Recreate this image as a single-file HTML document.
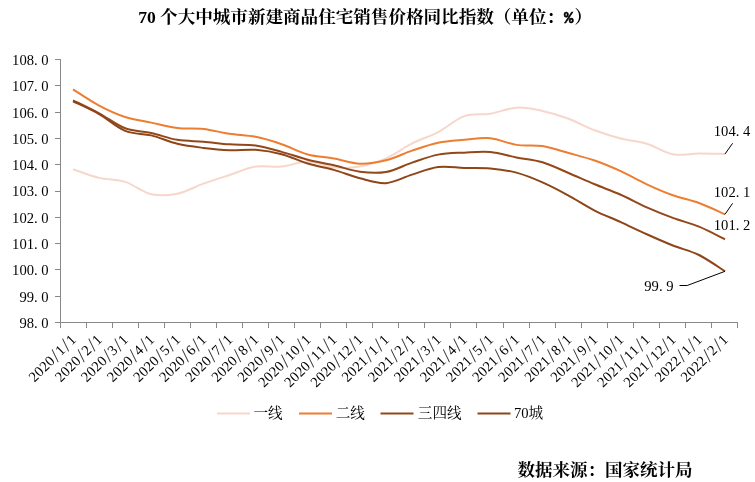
<!DOCTYPE html>
<html lang="zh-CN"><head><meta charset="utf-8"><title>70个大中城市新建商品住宅销售价格同比指数</title>
<style>
html,body{margin:0;padding:0;background:#fff;}
body{width:755px;height:482px;overflow:hidden;}
svg{display:block;}
.lab{font-family:"Liberation Serif","Noto Serif CJK SC",serif;font-size:14.6px;fill:#000;}
.cj{font-family:"Liberation Serif","Noto Serif CJK SC",serif;fill:#000;}
.ttl{font-family:"Liberation Serif","Noto Serif CJK SC",serif;font-weight:bold;fill:#000;}
</style></head><body>
<svg width="755" height="482" viewBox="0 0 755 482">
<rect width="755" height="482" fill="#fff"/>
<text class="ttl" x="138.3" y="23.3" font-size="17.6" xml:space="preserve">70 <tspan x="160.1" letter-spacing="-0.03">个大中城市新建商品住宅销售价格同比指数（单位：</tspan><tspan x="563.9" font-family="Liberation Mono,monospace" font-size="17" stroke="#000" stroke-width="0.6" textLength="9.4" lengthAdjust="spacingAndGlyphs">%</tspan><tspan x="574.5">）</tspan></text>
<g stroke="#888888" stroke-width="1" fill="none" shape-rendering="crispEdges">
<line x1="60.5" y1="59" x2="60.5" y2="323"/>
<line x1="60" y1="322.5" x2="738" y2="322.5"/>
<line x1="55" y1="59.5" x2="60" y2="59.5"/>
<line x1="55" y1="85.5" x2="60" y2="85.5"/>
<line x1="55" y1="112.5" x2="60" y2="112.5"/>
<line x1="55" y1="138.5" x2="60" y2="138.5"/>
<line x1="55" y1="164.5" x2="60" y2="164.5"/>
<line x1="55" y1="191.5" x2="60" y2="191.5"/>
<line x1="55" y1="217.5" x2="60" y2="217.5"/>
<line x1="55" y1="243.5" x2="60" y2="243.5"/>
<line x1="55" y1="269.5" x2="60" y2="269.5"/>
<line x1="55" y1="296.5" x2="60" y2="296.5"/>
<line x1="55" y1="322.5" x2="60" y2="322.5"/>
<line x1="60.5" y1="323" x2="60.5" y2="328"/>
<line x1="86.5" y1="323" x2="86.5" y2="328"/>
<line x1="112.5" y1="323" x2="112.5" y2="328"/>
<line x1="138.5" y1="323" x2="138.5" y2="328"/>
<line x1="164.5" y1="323" x2="164.5" y2="328"/>
<line x1="190.5" y1="323" x2="190.5" y2="328"/>
<line x1="216.5" y1="323" x2="216.5" y2="328"/>
<line x1="242.5" y1="323" x2="242.5" y2="328"/>
<line x1="268.5" y1="323" x2="268.5" y2="328"/>
<line x1="294.5" y1="323" x2="294.5" y2="328"/>
<line x1="320.5" y1="323" x2="320.5" y2="328"/>
<line x1="346.5" y1="323" x2="346.5" y2="328"/>
<line x1="372.5" y1="323" x2="372.5" y2="328"/>
<line x1="398.5" y1="323" x2="398.5" y2="328"/>
<line x1="424.5" y1="323" x2="424.5" y2="328"/>
<line x1="450.5" y1="323" x2="450.5" y2="328"/>
<line x1="476.5" y1="323" x2="476.5" y2="328"/>
<line x1="503.5" y1="323" x2="503.5" y2="328"/>
<line x1="529.5" y1="323" x2="529.5" y2="328"/>
<line x1="555.5" y1="323" x2="555.5" y2="328"/>
<line x1="581.5" y1="323" x2="581.5" y2="328"/>
<line x1="607.5" y1="323" x2="607.5" y2="328"/>
<line x1="633.5" y1="323" x2="633.5" y2="328"/>
<line x1="659.5" y1="323" x2="659.5" y2="328"/>
<line x1="685.5" y1="323" x2="685.5" y2="328"/>
<line x1="711.5" y1="323" x2="711.5" y2="328"/>
<line x1="737.5" y1="323" x2="737.5" y2="328"/>
</g>
<text class="lab" y="64.9" x="12.1 19.4 26.7 34.0 41.3">108.0</text>
<text class="lab" y="91.2" x="12.1 19.4 26.7 34.0 41.3">107.0</text>
<text class="lab" y="117.5" x="12.1 19.4 26.7 34.0 41.3">106.0</text>
<text class="lab" y="143.8" x="12.1 19.4 26.7 34.0 41.3">105.0</text>
<text class="lab" y="170.1" x="12.1 19.4 26.7 34.0 41.3">104.0</text>
<text class="lab" y="196.4" x="12.1 19.4 26.7 34.0 41.3">103.0</text>
<text class="lab" y="222.8" x="12.1 19.4 26.7 34.0 41.3">102.0</text>
<text class="lab" y="249.1" x="12.1 19.4 26.7 34.0 41.3">101.0</text>
<text class="lab" y="275.4" x="12.1 19.4 26.7 34.0 41.3">100.0</text>
<text class="lab" y="301.7" x="19.4 26.7 34.0 41.3">99.0</text>
<text class="lab" y="328.0" x="19.4 26.7 34.0 41.3">98.0</text>
<text class="lab" font-size="15" transform="translate(73.7 337.1) rotate(-45)"><tspan x="-60.0 -52.5 -45.0 -37.5" y="4.6">2020</tspan><tspan font-size="20" fill="#383838" x="-29.0" y="6.4">/</tspan><tspan x="-22.5" y="4.6">1</tspan><tspan font-size="20" fill="#383838" x="-14.0" y="6.4">/</tspan><tspan x="-7.5" y="4.6">1</tspan></text>
<text class="lab" font-size="15" transform="translate(99.8 337.1) rotate(-45)"><tspan x="-60.0 -52.5 -45.0 -37.5" y="4.6">2020</tspan><tspan font-size="20" fill="#383838" x="-29.0" y="6.4">/</tspan><tspan x="-22.5" y="4.6">2</tspan><tspan font-size="20" fill="#383838" x="-14.0" y="6.4">/</tspan><tspan x="-7.5" y="4.6">1</tspan></text>
<text class="lab" font-size="15" transform="translate(125.9 337.1) rotate(-45)"><tspan x="-60.0 -52.5 -45.0 -37.5" y="4.6">2020</tspan><tspan font-size="20" fill="#383838" x="-29.0" y="6.4">/</tspan><tspan x="-22.5" y="4.6">3</tspan><tspan font-size="20" fill="#383838" x="-14.0" y="6.4">/</tspan><tspan x="-7.5" y="4.6">1</tspan></text>
<text class="lab" font-size="15" transform="translate(152.0 337.1) rotate(-45)"><tspan x="-60.0 -52.5 -45.0 -37.5" y="4.6">2020</tspan><tspan font-size="20" fill="#383838" x="-29.0" y="6.4">/</tspan><tspan x="-22.5" y="4.6">4</tspan><tspan font-size="20" fill="#383838" x="-14.0" y="6.4">/</tspan><tspan x="-7.5" y="4.6">1</tspan></text>
<text class="lab" font-size="15" transform="translate(178.1 337.1) rotate(-45)"><tspan x="-60.0 -52.5 -45.0 -37.5" y="4.6">2020</tspan><tspan font-size="20" fill="#383838" x="-29.0" y="6.4">/</tspan><tspan x="-22.5" y="4.6">5</tspan><tspan font-size="20" fill="#383838" x="-14.0" y="6.4">/</tspan><tspan x="-7.5" y="4.6">1</tspan></text>
<text class="lab" font-size="15" transform="translate(204.1 337.1) rotate(-45)"><tspan x="-60.0 -52.5 -45.0 -37.5" y="4.6">2020</tspan><tspan font-size="20" fill="#383838" x="-29.0" y="6.4">/</tspan><tspan x="-22.5" y="4.6">6</tspan><tspan font-size="20" fill="#383838" x="-14.0" y="6.4">/</tspan><tspan x="-7.5" y="4.6">1</tspan></text>
<text class="lab" font-size="15" transform="translate(230.2 337.1) rotate(-45)"><tspan x="-60.0 -52.5 -45.0 -37.5" y="4.6">2020</tspan><tspan font-size="20" fill="#383838" x="-29.0" y="6.4">/</tspan><tspan x="-22.5" y="4.6">7</tspan><tspan font-size="20" fill="#383838" x="-14.0" y="6.4">/</tspan><tspan x="-7.5" y="4.6">1</tspan></text>
<text class="lab" font-size="15" transform="translate(256.3 337.1) rotate(-45)"><tspan x="-60.0 -52.5 -45.0 -37.5" y="4.6">2020</tspan><tspan font-size="20" fill="#383838" x="-29.0" y="6.4">/</tspan><tspan x="-22.5" y="4.6">8</tspan><tspan font-size="20" fill="#383838" x="-14.0" y="6.4">/</tspan><tspan x="-7.5" y="4.6">1</tspan></text>
<text class="lab" font-size="15" transform="translate(282.4 337.1) rotate(-45)"><tspan x="-60.0 -52.5 -45.0 -37.5" y="4.6">2020</tspan><tspan font-size="20" fill="#383838" x="-29.0" y="6.4">/</tspan><tspan x="-22.5" y="4.6">9</tspan><tspan font-size="20" fill="#383838" x="-14.0" y="6.4">/</tspan><tspan x="-7.5" y="4.6">1</tspan></text>
<text class="lab" font-size="15" transform="translate(308.5 337.1) rotate(-45)"><tspan x="-67.5 -60.0 -52.5 -45.0" y="4.6">2020</tspan><tspan font-size="20" fill="#383838" x="-36.5" y="6.4">/</tspan><tspan x="-30.0 -22.5" y="4.6">10</tspan><tspan font-size="20" fill="#383838" x="-14.0" y="6.4">/</tspan><tspan x="-7.5" y="4.6">1</tspan></text>
<text class="lab" font-size="15" transform="translate(334.5 337.1) rotate(-45)"><tspan x="-67.5 -60.0 -52.5 -45.0" y="4.6">2020</tspan><tspan font-size="20" fill="#383838" x="-36.5" y="6.4">/</tspan><tspan x="-30.0 -22.5" y="4.6">11</tspan><tspan font-size="20" fill="#383838" x="-14.0" y="6.4">/</tspan><tspan x="-7.5" y="4.6">1</tspan></text>
<text class="lab" font-size="15" transform="translate(360.6 337.1) rotate(-45)"><tspan x="-67.5 -60.0 -52.5 -45.0" y="4.6">2020</tspan><tspan font-size="20" fill="#383838" x="-36.5" y="6.4">/</tspan><tspan x="-30.0 -22.5" y="4.6">12</tspan><tspan font-size="20" fill="#383838" x="-14.0" y="6.4">/</tspan><tspan x="-7.5" y="4.6">1</tspan></text>
<text class="lab" font-size="15" transform="translate(386.7 337.1) rotate(-45)"><tspan x="-60.0 -52.5 -45.0 -37.5" y="4.6">2021</tspan><tspan font-size="20" fill="#383838" x="-29.0" y="6.4">/</tspan><tspan x="-22.5" y="4.6">1</tspan><tspan font-size="20" fill="#383838" x="-14.0" y="6.4">/</tspan><tspan x="-7.5" y="4.6">1</tspan></text>
<text class="lab" font-size="15" transform="translate(412.8 337.1) rotate(-45)"><tspan x="-60.0 -52.5 -45.0 -37.5" y="4.6">2021</tspan><tspan font-size="20" fill="#383838" x="-29.0" y="6.4">/</tspan><tspan x="-22.5" y="4.6">2</tspan><tspan font-size="20" fill="#383838" x="-14.0" y="6.4">/</tspan><tspan x="-7.5" y="4.6">1</tspan></text>
<text class="lab" font-size="15" transform="translate(438.9 337.1) rotate(-45)"><tspan x="-60.0 -52.5 -45.0 -37.5" y="4.6">2021</tspan><tspan font-size="20" fill="#383838" x="-29.0" y="6.4">/</tspan><tspan x="-22.5" y="4.6">3</tspan><tspan font-size="20" fill="#383838" x="-14.0" y="6.4">/</tspan><tspan x="-7.5" y="4.6">1</tspan></text>
<text class="lab" font-size="15" transform="translate(464.9 337.1) rotate(-45)"><tspan x="-60.0 -52.5 -45.0 -37.5" y="4.6">2021</tspan><tspan font-size="20" fill="#383838" x="-29.0" y="6.4">/</tspan><tspan x="-22.5" y="4.6">4</tspan><tspan font-size="20" fill="#383838" x="-14.0" y="6.4">/</tspan><tspan x="-7.5" y="4.6">1</tspan></text>
<text class="lab" font-size="15" transform="translate(491.0 337.1) rotate(-45)"><tspan x="-60.0 -52.5 -45.0 -37.5" y="4.6">2021</tspan><tspan font-size="20" fill="#383838" x="-29.0" y="6.4">/</tspan><tspan x="-22.5" y="4.6">5</tspan><tspan font-size="20" fill="#383838" x="-14.0" y="6.4">/</tspan><tspan x="-7.5" y="4.6">1</tspan></text>
<text class="lab" font-size="15" transform="translate(517.1 337.1) rotate(-45)"><tspan x="-60.0 -52.5 -45.0 -37.5" y="4.6">2021</tspan><tspan font-size="20" fill="#383838" x="-29.0" y="6.4">/</tspan><tspan x="-22.5" y="4.6">6</tspan><tspan font-size="20" fill="#383838" x="-14.0" y="6.4">/</tspan><tspan x="-7.5" y="4.6">1</tspan></text>
<text class="lab" font-size="15" transform="translate(543.2 337.1) rotate(-45)"><tspan x="-60.0 -52.5 -45.0 -37.5" y="4.6">2021</tspan><tspan font-size="20" fill="#383838" x="-29.0" y="6.4">/</tspan><tspan x="-22.5" y="4.6">7</tspan><tspan font-size="20" fill="#383838" x="-14.0" y="6.4">/</tspan><tspan x="-7.5" y="4.6">1</tspan></text>
<text class="lab" font-size="15" transform="translate(569.3 337.1) rotate(-45)"><tspan x="-60.0 -52.5 -45.0 -37.5" y="4.6">2021</tspan><tspan font-size="20" fill="#383838" x="-29.0" y="6.4">/</tspan><tspan x="-22.5" y="4.6">8</tspan><tspan font-size="20" fill="#383838" x="-14.0" y="6.4">/</tspan><tspan x="-7.5" y="4.6">1</tspan></text>
<text class="lab" font-size="15" transform="translate(595.3 337.1) rotate(-45)"><tspan x="-60.0 -52.5 -45.0 -37.5" y="4.6">2021</tspan><tspan font-size="20" fill="#383838" x="-29.0" y="6.4">/</tspan><tspan x="-22.5" y="4.6">9</tspan><tspan font-size="20" fill="#383838" x="-14.0" y="6.4">/</tspan><tspan x="-7.5" y="4.6">1</tspan></text>
<text class="lab" font-size="15" transform="translate(621.4 337.1) rotate(-45)"><tspan x="-67.5 -60.0 -52.5 -45.0" y="4.6">2021</tspan><tspan font-size="20" fill="#383838" x="-36.5" y="6.4">/</tspan><tspan x="-30.0 -22.5" y="4.6">10</tspan><tspan font-size="20" fill="#383838" x="-14.0" y="6.4">/</tspan><tspan x="-7.5" y="4.6">1</tspan></text>
<text class="lab" font-size="15" transform="translate(647.5 337.1) rotate(-45)"><tspan x="-67.5 -60.0 -52.5 -45.0" y="4.6">2021</tspan><tspan font-size="20" fill="#383838" x="-36.5" y="6.4">/</tspan><tspan x="-30.0 -22.5" y="4.6">11</tspan><tspan font-size="20" fill="#383838" x="-14.0" y="6.4">/</tspan><tspan x="-7.5" y="4.6">1</tspan></text>
<text class="lab" font-size="15" transform="translate(673.6 337.1) rotate(-45)"><tspan x="-67.5 -60.0 -52.5 -45.0" y="4.6">2021</tspan><tspan font-size="20" fill="#383838" x="-36.5" y="6.4">/</tspan><tspan x="-30.0 -22.5" y="4.6">12</tspan><tspan font-size="20" fill="#383838" x="-14.0" y="6.4">/</tspan><tspan x="-7.5" y="4.6">1</tspan></text>
<text class="lab" font-size="15" transform="translate(699.7 337.1) rotate(-45)"><tspan x="-60.0 -52.5 -45.0 -37.5" y="4.6">2022</tspan><tspan font-size="20" fill="#383838" x="-29.0" y="6.4">/</tspan><tspan x="-22.5" y="4.6">1</tspan><tspan font-size="20" fill="#383838" x="-14.0" y="6.4">/</tspan><tspan x="-7.5" y="4.6">1</tspan></text>
<text class="lab" font-size="15" transform="translate(725.7 337.1) rotate(-45)"><tspan x="-60.0 -52.5 -45.0 -37.5" y="4.6">2022</tspan><tspan font-size="20" fill="#383838" x="-29.0" y="6.4">/</tspan><tspan x="-22.5" y="4.6">2</tspan><tspan font-size="20" fill="#383838" x="-14.0" y="6.4">/</tspan><tspan x="-7.5" y="4.6">1</tspan></text>
<path d="M73.04 169.21 C77.39 170.66 90.43 175.79 99.12 177.89 C107.81 180.00 116.51 179.12 125.20 181.84 C133.89 184.56 142.59 192.23 151.28 194.21 C159.97 196.18 168.67 195.43 177.36 193.68 C186.05 191.93 194.75 186.80 203.44 183.68 C212.13 180.57 220.83 177.85 229.52 175.00 C238.21 172.15 246.91 167.98 255.60 166.58 C264.29 165.18 272.99 167.41 281.68 166.58 C290.37 165.75 299.07 161.45 307.76 161.58 C316.45 161.71 325.15 166.54 333.84 167.37 C342.53 168.20 351.23 168.07 359.92 166.58 C368.61 165.09 377.31 162.28 386.00 158.43 C394.69 154.57 403.39 147.81 412.08 143.43 C420.77 139.04 429.47 136.68 438.16 132.12 C446.85 127.56 455.55 119.14 464.24 116.07 C472.93 113.00 481.63 115.10 490.32 113.70 C499.01 112.30 507.71 108.11 516.40 107.65 C525.09 107.19 533.79 109.09 542.48 110.94 C551.17 112.78 559.87 115.47 568.56 118.70 C577.25 121.92 585.95 126.99 594.64 130.27 C603.33 133.56 612.03 136.19 620.72 138.43 C629.41 140.67 638.11 141.06 646.80 143.69 C655.49 146.32 664.19 152.57 672.88 154.22 C681.57 155.86 690.27 153.60 698.96 153.56 C707.65 153.51 720.69 153.89 725.04 153.95" fill="none" stroke="#F7D6CB" stroke-width="2" stroke-linejoin="round"/>
<path d="M73.04 89.34 C77.39 92.04 90.43 100.93 99.12 105.54 C107.81 110.15 116.51 114.14 125.20 116.99 C133.89 119.84 142.59 120.81 151.28 122.64 C159.97 124.48 168.67 126.96 177.36 128.01 C186.05 129.06 194.75 127.99 203.44 128.96 C212.13 129.93 220.83 132.51 229.52 133.83 C238.21 135.14 246.91 135.12 255.60 136.85 C264.29 138.58 272.99 141.28 281.68 144.22 C290.37 147.16 299.07 152.11 307.76 154.48 C316.45 156.85 325.15 156.89 333.84 158.43 C342.53 159.96 351.23 163.38 359.92 163.69 C368.61 163.99 377.31 162.44 386.00 160.27 C394.69 158.10 403.39 153.58 412.08 150.66 C420.77 147.75 429.47 144.58 438.16 142.77 C446.85 140.96 455.55 140.59 464.24 139.82 C472.93 139.06 481.63 137.32 490.32 138.17 C499.01 139.01 507.71 143.56 516.40 144.88 C525.09 146.19 533.79 144.70 542.48 146.06 C551.17 147.42 559.87 150.62 568.56 153.03 C577.25 155.44 585.95 157.51 594.64 160.53 C603.33 163.55 612.03 167.20 620.72 171.16 C629.41 175.12 638.11 180.30 646.80 184.31 C655.49 188.33 664.19 192.14 672.88 195.26 C681.57 198.38 690.27 199.86 698.96 203.02 C707.65 206.19 720.69 212.38 725.04 214.26" fill="none" stroke="#ED7D31" stroke-width="2" stroke-linejoin="round"/>
<path d="M73.04 100.28 C77.39 102.45 90.43 108.63 99.12 113.30 C107.81 117.97 116.51 125.01 125.20 128.30 C133.89 131.59 142.59 131.11 151.28 133.04 C159.97 134.96 168.67 138.40 177.36 139.85 C186.05 141.30 194.75 140.97 203.44 141.72 C212.13 142.47 220.83 143.71 229.52 144.35 C238.21 144.99 246.91 144.28 255.60 145.53 C264.29 146.78 272.99 149.48 281.68 151.85 C290.37 154.22 299.07 157.50 307.76 159.74 C316.45 161.98 325.15 163.27 333.84 165.27 C342.53 167.26 351.23 170.59 359.92 171.71 C368.61 172.83 377.31 173.49 386.00 171.98 C394.69 170.46 403.39 165.53 412.08 162.64 C420.77 159.74 429.47 156.28 438.16 154.61 C446.85 152.94 455.55 153.06 464.24 152.64 C472.93 152.21 481.63 151.26 490.32 152.06 C499.01 152.86 507.71 155.73 516.40 157.43 C525.09 159.12 533.79 159.64 542.48 162.24 C551.17 164.84 559.87 169.33 568.56 173.00 C577.25 176.68 585.95 180.67 594.64 184.29 C603.33 187.91 612.03 190.89 620.72 194.73 C629.41 198.58 638.11 203.50 646.80 207.36 C655.49 211.22 664.19 214.67 672.88 217.89 C681.57 221.10 690.27 223.08 698.96 226.65 C707.65 230.21 720.69 237.17 725.04 239.28" fill="none" stroke="#94481A" stroke-width="2" stroke-linejoin="round"/>
<path d="M73.04 101.33 C77.39 103.46 90.43 109.16 99.12 114.09 C107.81 119.03 116.51 127.38 125.20 130.93 C133.89 134.48 142.59 133.26 151.28 135.40 C159.97 137.55 168.67 141.74 177.36 143.82 C186.05 145.91 194.75 146.85 203.44 147.90 C212.13 148.95 220.83 149.82 229.52 150.14 C238.21 150.45 246.91 149.12 255.60 149.80 C264.29 150.48 272.99 151.92 281.68 154.22 C290.37 156.51 299.07 160.95 307.76 163.56 C316.45 166.16 325.15 167.39 333.84 169.84 C342.53 172.30 351.23 176.07 359.92 178.29 C368.61 180.51 377.31 183.77 386.00 183.16 C394.69 182.54 403.39 177.28 412.08 174.61 C420.77 171.93 429.47 168.23 438.16 167.11 C446.85 165.99 455.55 167.68 464.24 167.90 C472.93 168.12 481.63 167.63 490.32 168.42 C499.01 169.21 507.71 170.31 516.40 172.63 C525.09 174.96 533.79 178.55 542.48 182.37 C551.17 186.18 559.87 190.83 568.56 195.52 C577.25 200.21 585.95 206.09 594.64 210.52 C603.33 214.95 612.03 218.14 620.72 222.10 C629.41 226.06 638.11 230.37 646.80 234.28 C655.49 238.18 664.19 242.06 672.88 245.51 C681.57 248.96 690.27 250.69 698.96 254.98 C707.65 259.28 720.69 268.58 725.04 271.30" fill="none" stroke="#8E4518" stroke-width="2" stroke-linejoin="round"/>
<text class="lab" y="136.0" x="713.8 721.1 728.4 735.7 743.0">104.4</text>
<text class="lab" y="196.5" x="713.8 721.1 728.4 735.7 743.0">102.1</text>
<text class="lab" y="229.8" x="713.8 721.1 728.4 735.7 743.0">101.2</text>
<text class="lab" y="290.5" x="644.3 651.6 658.9 666.2">99.9</text>
<g stroke="#000" stroke-width="1" fill="none">
<path d="M725.0 271.3 L687.2 285.5 L679.5 285.5"/>
<path d="M725.0 154.0 L732.6 143.3"/>
<path d="M725.0 214.3 L732.6 203.3"/>
</g>
<line x1="217.0" y1="413.5" x2="250.0" y2="413.5" stroke="#F7D6CB" stroke-width="2"/>
<text class="lab" x="253.5" y="417.5">一线</text>
<line x1="299.0" y1="413.5" x2="332.0" y2="413.5" stroke="#ED7D31" stroke-width="2"/>
<text class="lab" x="335.7" y="417.5">二线</text>
<line x1="380.5" y1="413.5" x2="413.5" y2="413.5" stroke="#94481A" stroke-width="2"/>
<text class="lab" x="417.8" y="417.5">三四线</text>
<line x1="477.5" y1="413.5" x2="510.5" y2="413.5" stroke="#8E4518" stroke-width="2"/>
<text class="lab" x="514.0" y="417.5">70城</text>
<text class="ttl" x="517.5" y="475.6" font-size="17.5">数据来源：国家统计局</text>
</svg>
</body></html>
